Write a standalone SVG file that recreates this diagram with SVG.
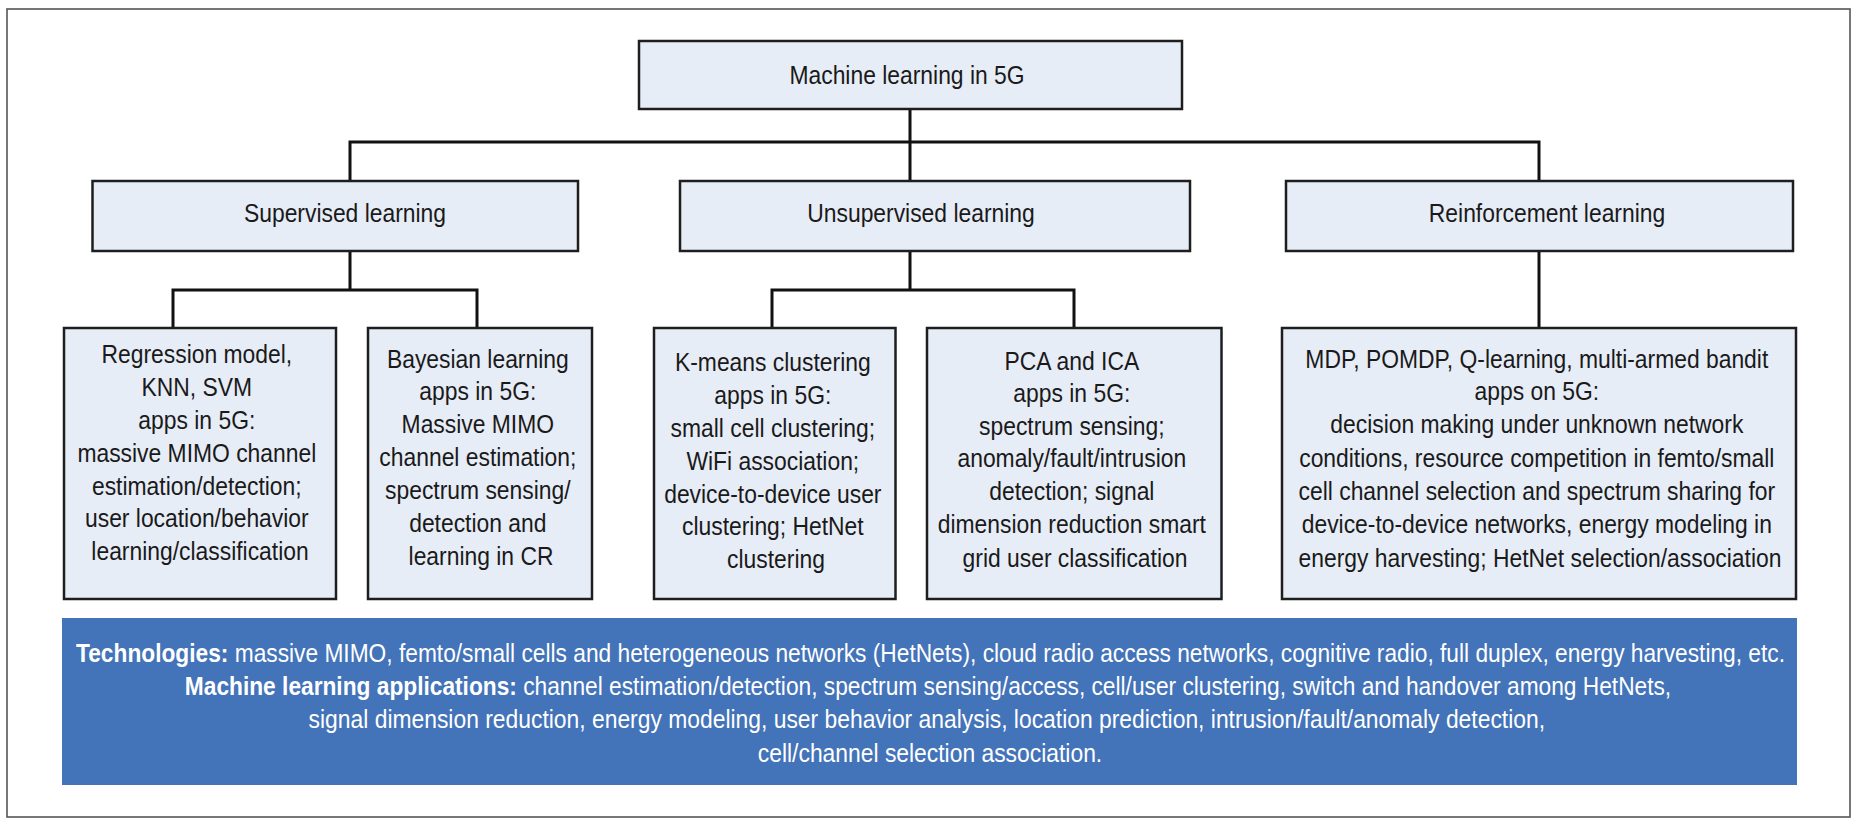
<svg xmlns="http://www.w3.org/2000/svg" width="1861" height="830" viewBox="0 0 1861 830">
<style>
.frame{fill:#ffffff;stroke:#555;stroke-width:1.6}
.box{fill:#E7EDF7;stroke:#1E1E1E;stroke-width:2.5}
.conn{stroke:#111;stroke-width:3;fill:none;stroke-linecap:square}
.t{font-family:"Liberation Sans",Arial,sans-serif;font-size:26px;fill:#1a1a1a;text-anchor:middle}
.w{font-family:"Liberation Sans",Arial,sans-serif;font-size:26px;fill:#ffffff;text-anchor:middle}
.b{font-weight:bold}
.bar{fill:#4373B8}
</style>
<rect x="0" y="0" width="1861" height="830" fill="#ffffff"/>
<rect class="frame" x="7" y="9" width="1843" height="808"/>
<g id="connectors">
<path class="conn" d="M910,109 V181 M350,142 H1539 M350,142 V181 M1539,142 V181"/>
<path class="conn" d="M350,251 V290 M173,290 H477 M173,290 V328 M477,290 V328"/>
<path class="conn" d="M910,251 V290 M772,290 H1074 M772,290 V328 M1074,290 V328"/>
<path class="conn" d="M1539,251 V328"/>
</g>
<g id="root">
<rect class="box" x="639" y="41" width="543" height="68"/>
<text class="t" transform="translate(907,0) scale(0.88,1)"><tspan x="0" y="84">Machine learning in 5G</tspan></text>
</g>
<g id="supervised">
<rect class="box" x="92.5" y="181" width="485.5" height="70"/>
<text class="t" transform="translate(345,0) scale(0.88,1)"><tspan x="0" y="222">Supervised learning</tspan></text>
</g>
<g id="unsupervised">
<rect class="box" x="680" y="181" width="510" height="70"/>
<text class="t" transform="translate(921,0) scale(0.88,1)"><tspan x="0" y="222">Unsupervised learning</tspan></text>
</g>
<g id="reinforcement">
<rect class="box" x="1286" y="181" width="507" height="70"/>
<text class="t" transform="translate(1547,0) scale(0.88,1)"><tspan x="0" y="222">Reinforcement learning</tspan></text>
</g>
<g id="leaf-regression">
<rect class="box" x="64" y="328" width="272" height="271"/>
<text class="t" transform="translate(200,0) scale(0.88,1)">
<tspan x="0" y="363">Regression model,</tspan>
<tspan x="0" y="396">KNN, SVM</tspan>
<tspan x="0" y="429">apps in 5G:</tspan>
<tspan x="0" y="462">massive MIMO channel</tspan>
<tspan x="0" y="495">estimation/detection;</tspan>
<tspan x="0" y="527">user location/behavior</tspan>
<tspan x="0" y="560">learning/classification</tspan>
</text>
</g>
<g id="leaf-bayesian">
<rect class="box" x="368" y="328" width="224" height="271"/>
<text class="t" transform="translate(481,0) scale(0.88,1)">
<tspan x="0" y="368">Bayesian learning</tspan>
<tspan x="0" y="400">apps in 5G:</tspan>
<tspan x="0" y="433">Massive MIMO</tspan>
<tspan x="0" y="466">channel estimation;</tspan>
<tspan x="0" y="499">spectrum sensing/</tspan>
<tspan x="0" y="532">detection and</tspan>
<tspan x="0" y="565">learning in CR</tspan>
</text>
</g>
<g id="leaf-kmeans">
<rect class="box" x="654" y="328" width="241.5" height="271"/>
<text class="t" transform="translate(776,0) scale(0.88,1)">
<tspan x="0" y="371">K-means clustering</tspan>
<tspan x="0" y="404">apps in 5G:</tspan>
<tspan x="0" y="437">small cell clustering;</tspan>
<tspan x="0" y="470">WiFi association;</tspan>
<tspan x="0" y="503">device-to-device user</tspan>
<tspan x="0" y="535">clustering; HetNet</tspan>
<tspan x="0" y="568">clustering</tspan>
</text>
</g>
<g id="leaf-pca">
<rect class="box" x="927" y="328" width="294.5" height="271"/>
<text class="t" transform="translate(1075,0) scale(0.88,1)">
<tspan x="0" y="370">PCA and ICA</tspan>
<tspan x="0" y="402">apps in 5G:</tspan>
<tspan x="0" y="435">spectrum sensing;</tspan>
<tspan x="0" y="467">anomaly/fault/intrusion</tspan>
<tspan x="0" y="500">detection; signal</tspan>
<tspan x="0" y="533">dimension reduction smart</tspan>
<tspan x="0" y="567">grid user classification</tspan>
</text>
</g>
<g id="leaf-mdp">
<rect class="box" x="1282" y="328" width="514" height="271"/>
<text class="t" transform="translate(1540,0) scale(0.88,1)">
<tspan x="0" y="368">MDP, POMDP, Q-learning, multi-armed bandit</tspan>
<tspan x="0" y="400">apps on 5G:</tspan>
<tspan x="0" y="433">decision making under unknown network</tspan>
<tspan x="0" y="467">conditions, resource competition in femto/small</tspan>
<tspan x="0" y="500">cell channel selection and spectrum sharing for</tspan>
<tspan x="0" y="533">device-to-device networks, energy modeling in</tspan>
<tspan x="0" y="567">energy harvesting; HetNet selection/association</tspan>
</text>
</g>
<g id="summary">
<rect class="bar" x="62" y="618" width="1735" height="167"/>
<text class="w" transform="translate(930.5,0) scale(0.88,1)" x="0" y="662" textLength="1942" lengthAdjust="spacingAndGlyphs"><tspan class="b">Technologies:</tspan> massive MIMO, femto/small cells and heterogeneous networks (HetNets), cloud radio access networks, cognitive radio, full duplex, energy harvesting, etc.</text>
<text class="w" transform="translate(928,0) scale(0.88,1)" x="0" y="695" textLength="1689" lengthAdjust="spacingAndGlyphs"><tspan class="b">Machine learning applications:</tspan> channel estimation/detection, spectrum sensing/access, cell/user clustering, switch and handover among HetNets,</text>
<text class="w" transform="translate(930,0) scale(0.88,1)">
<tspan x="0" y="728">signal dimension reduction, energy modeling, user behavior analysis, location prediction, intrusion/fault/anomaly detection,</tspan>
<tspan x="0" y="762">cell/channel selection association.</tspan>
</text>
</g>
</svg>
